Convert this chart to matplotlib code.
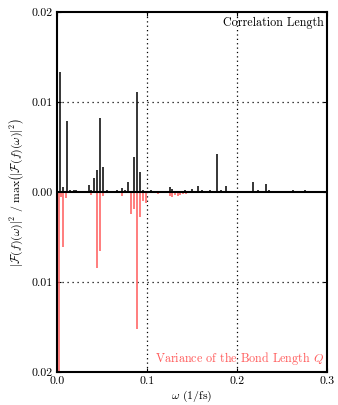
import matplotlib
matplotlib.use("Agg")
import matplotlib.pyplot as plt
from matplotlib.ticker import FuncFormatter

# Correlation length spectrum (upper, black)
corr_freq = [0.0033, 0.0070, 0.0107, 0.0140, 0.0170, 0.0190, 0.0215, 0.0245, 0.0290,
             0.0350, 0.0380, 0.0410, 0.0440, 0.0481, 0.0511, 0.0550, 0.0590, 0.0630,
             0.0670, 0.0720, 0.0750, 0.0785, 0.0852, 0.0885, 0.0922, 0.0960, 0.1040,
             0.1090, 0.1250, 0.1280, 0.1350, 0.1420, 0.1500, 0.1570, 0.1610, 0.1700,
             0.1774, 0.1820, 0.1880, 0.2110, 0.2180, 0.2230, 0.2320, 0.2360, 0.2626,
             0.2760, 0.2880]
corr_amp = [0.01337, 0.00052, 0.0079, 0.0002, 0.00015, 0.0002, 0.00025, 0.00015, 0.0001,
            0.00078, 0.0002, 0.00152, 0.00244, 0.00826, 0.0028, 0.0002, 0.00015, 0.00015,
            0.0002, 0.0004, 0.0002, 0.00115, 0.00393, 0.01115, 0.00218, 0.0002, 0.0002,
            0.0001, 0.0005, 0.0003, 0.0001, 0.0002, 0.0003, 0.00067, 0.0002, 0.0002,
            0.0042, 0.0002, 0.00063, 0.0001, 0.00115, 0.0002, 0.00085, 0.0002, 0.00025,
            0.00022, 0.00015]

# Variance of bond length spectrum (lower, red)
var_freq = [0.0022, 0.0045, 0.0070, 0.0100, 0.0374, 0.0448, 0.0478, 0.0510, 0.0720,
            0.0819, 0.0856, 0.0889, 0.0922, 0.0956, 0.0985, 0.1120, 0.1260, 0.1283,
            0.1310, 0.1340, 0.1370, 0.1400, 0.1430]
var_amp = [0.022, 0.0006, 0.00614, 0.0007, 0.0003, 0.00848, 0.00654, 0.0004, 0.0004,
           0.00241, 0.0019, 0.0152, 0.00282, 0.00104, 0.00125, 0.0002, 0.0004, 0.0006,
           0.0003, 0.0004, 0.0003, 0.0002, 0.0002]

x_ticks = [0.0, 0.1, 0.2, 0.3]
y_ticks = [-0.02, -0.01, 0.0, 0.01, 0.02]

plt.rcParams['font.family'] = 'serif'
plt.rcParams['font.serif'] = ['cmr10', 'DejaVu Serif']
plt.rcParams['mathtext.fontset'] = 'cm'
plt.rcParams['axes.formatter.use_mathtext'] = True
plt.rcParams['font.size'] = 8.5

fig = plt.figure(figsize=(3.38, 4.05), dpi=100)
ax = fig.add_axes([0.169, 0.0815, 0.798, 0.889])

red = '#ff5a5a'
ax.vlines(corr_freq, 0, corr_amp, colors='black', lw=1.1, zorder=3)
ax.vlines(var_freq, 0, [-v for v in var_amp], colors=red, lw=1.1, zorder=3)
ax.axhline(0, color='black', lw=1.5, zorder=4)

ax.set_xlim(0, 0.3)
ax.set_ylim(-0.02, 0.02)
ax.set_xticks(x_ticks)
ax.set_yticks(y_ticks)
ax.xaxis.set_major_formatter(FuncFormatter(lambda v, p: f"{v:.1f}"))
ax.yaxis.set_major_formatter(FuncFormatter(lambda v, p: f"{abs(v):.2f}"))
ax.tick_params(direction='in', top=True, right=True, length=3, width=0.8,
               labelsize=8.5, pad=3)
for s in ax.spines.values():
    s.set_linewidth(1.5)
    s.set_zorder(5)

for xv in [0.1, 0.2]:
    ax.axvline(xv, color='black', lw=0.9, ls=(0, (1, 2.5)), zorder=1)
for yv in [-0.01, 0.01]:
    ax.axhline(yv, color='black', lw=0.9, ls=(0, (1, 3)), zorder=1)

ax.set_xlabel(r'$\omega$ (1/fs)', fontsize=8.5, labelpad=2)
ax.set_ylabel(r'$|\mathcal{F}(f)(\omega)|^2\ /\ \max\left(|\mathcal{F}(f)(\omega)|^2\right)$',
              fontsize=8.5, labelpad=4)

ax.text(0.297, 0.0194, 'Correlation Length', ha='right', va='top', fontsize=8.7, color='black')
ax.text(0.297, -0.0194, r'Variance of the Bond Length $Q$', ha='right', va='bottom',
        fontsize=8.7, color=red)

fig.savefig('out.png', dpi=100)
